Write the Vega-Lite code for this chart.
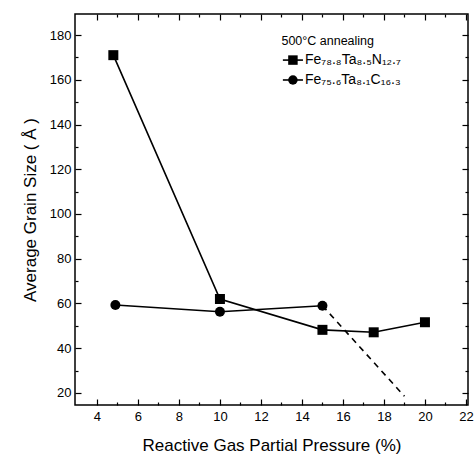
{
  "$schema": "https://vega.github.io/schema/vega-lite/v6.json",
  "autosize": "none",
  "width": 393,
  "height": 391,
  "padding": {"left": 75, "top": 14, "right": 8, "bottom": 58},
  "background": "white",
  "config": {
    "view": {"stroke": "black", "strokeWidth": 1.5},
    "font": "Liberation Sans",
    "axis": {"domainColor": "black", "tickColor": "black", "labelColor": "black", "titleColor": "black", "labelFont": "Liberation Sans", "titleFont": "Liberation Sans", "titleFontWeight": "normal", "grid": false, "tickWidth": 1.2}
  },
  "datasets": {
    "main": [
      {"series": "N", "x": 4.8, "y": 171},
      {"series": "N", "x": 10, "y": 62},
      {"series": "N", "x": 15, "y": 48.2},
      {"series": "N", "x": 17.5, "y": 47.1},
      {"series": "N", "x": 20, "y": 51.6},
      {"series": "C", "x": 4.9, "y": 59.3},
      {"series": "C", "x": 10, "y": 56.3},
      {"series": "C", "x": 15, "y": 59}
    ],
    "dashed": [
      {"x": 15, "y": 59},
      {"x": 19, "y": 18.5}
    ],
    "legline": [
      {"series": "N", "x": 13.07, "y": 168.8},
      {"series": "N", "x": 14.05, "y": 168.8},
      {"series": "C", "x": 13.07, "y": 159.9},
      {"series": "C", "x": 14.05, "y": 159.9}
    ],
    "legpt": [
      {"series": "N", "x": 13.56, "y": 168.8},
      {"series": "C", "x": 13.56, "y": 159.9}
    ],
    "legtext": [
      {"label": "500°C annealing", "x": 13.0, "y": 177.3, "kind": "title"},
      {"label": "Fe₇₈.₈Ta₈.₅N₁₂.₇", "x": 14.15, "y": 168.8, "kind": "entry"},
      {"label": "Fe₇₅.₆Ta₈.₁C₁₆.₃", "x": 14.15, "y": 159.9, "kind": "entry"}
    ]
  },
  "layer": [
    {
      "data": {"name": "main"},
      "mark": {"type": "line", "color": "black", "strokeWidth": 1.6},
      "encoding": {
        "x": {"field": "x", "type": "quantitative", "scale": {"domain": [2.93, 22.1], "nice": false, "zero": false},
          "axis": {"orient": "bottom", "title": "Reactive Gas Partial Pressure (%)", "titleFontSize": 17, "titlePadding": 14,
            "values": [4,5,6,7,8,9,10,11,12,13,14,15,16,17,18,19,20,21,22],
            "labelExpr": "datum.value % 2 === 0 ? datum.label : ''",
            "labelFontSize": 13, "labelPadding": 11, "domain": false,
            "tickSize": {"condition": {"test": "datum.value % 2 === 0", "value": -6}, "value": -3}}},
        "y": {"field": "y", "type": "quantitative", "scale": {"domain": [14.6, 189.4], "nice": false, "zero": false},
          "axis": {"orient": "left", "title": "Average Grain Size ( Å )", "titleFontSize": 17, "titlePadding": 10,
            "values": [20,30,40,50,60,70,80,90,100,110,120,130,140,150,160,170,180],
            "labelExpr": "datum.value % 20 === 0 ? datum.label : ''",
            "labelFontSize": 13, "labelPadding": 10, "domain": false,
            "tickSize": {"condition": {"test": "datum.value % 20 === 0", "value": -6}, "value": -3}}},
        "detail": {"field": "series"}
      }
    },
    {
      "data": {"name": "main"},
      "mark": {"type": "point", "filled": true, "color": "black", "opacity": 1, "size": 100},
      "encoding": {
        "x": {"field": "x", "type": "quantitative",
          "axis": {"orient": "top", "title": null, "labels": false, "domain": false,
            "values": [4,5,6,7,8,9,10,11,12,13,14,15,16,17,18,19,20,21,22],
            "tickSize": {"condition": {"test": "datum.value % 2 === 0", "value": -6}, "value": -3}}},
        "y": {"field": "y", "type": "quantitative",
          "axis": {"orient": "right", "title": null, "labels": false, "domain": false,
            "values": [20,30,40,50,60,70,80,90,100,110,120,130,140,150,160,170,180],
            "tickSize": {"condition": {"test": "datum.value % 20 === 0", "value": -6}, "value": -3}}},
        "shape": {"field": "series", "type": "nominal", "scale": {"domain": ["N", "C"], "range": ["square", "circle"]}, "legend": null}
      }
    },
    {
      "data": {"name": "dashed"},
      "mark": {"type": "line", "color": "black", "strokeWidth": 1.6, "strokeDash": [6, 5]},
      "encoding": {
        "x": {"field": "x", "type": "quantitative", "axis": null},
        "y": {"field": "y", "type": "quantitative", "axis": null}
      }
    },
    {
      "data": {"name": "legline"},
      "mark": {"type": "line", "color": "black", "strokeWidth": 1.6},
      "encoding": {
        "x": {"field": "x", "type": "quantitative", "axis": null},
        "y": {"field": "y", "type": "quantitative", "axis": null},
        "detail": {"field": "series"}
      }
    },
    {
      "data": {"name": "legpt"},
      "mark": {"type": "point", "filled": true, "color": "black", "opacity": 1, "size": 90},
      "encoding": {
        "x": {"field": "x", "type": "quantitative", "axis": null},
        "y": {"field": "y", "type": "quantitative", "axis": null},
        "shape": {"field": "series", "type": "nominal", "legend": null}
      }
    },
    {
      "data": {"name": "legtext"},
      "mark": {"type": "text", "align": "left", "baseline": "middle", "color": "black", "font": "Liberation Sans"},
      "encoding": {
        "x": {"field": "x", "type": "quantitative", "axis": null},
        "y": {"field": "y", "type": "quantitative", "axis": null},
        "text": {"field": "label"},
        "size": {"condition": {"test": "datum.kind === 'title'", "value": 12.5}, "value": 14}
      }
    }
  ],
  "resolve": {"axis": {"x": "independent", "y": "independent"}}
}
